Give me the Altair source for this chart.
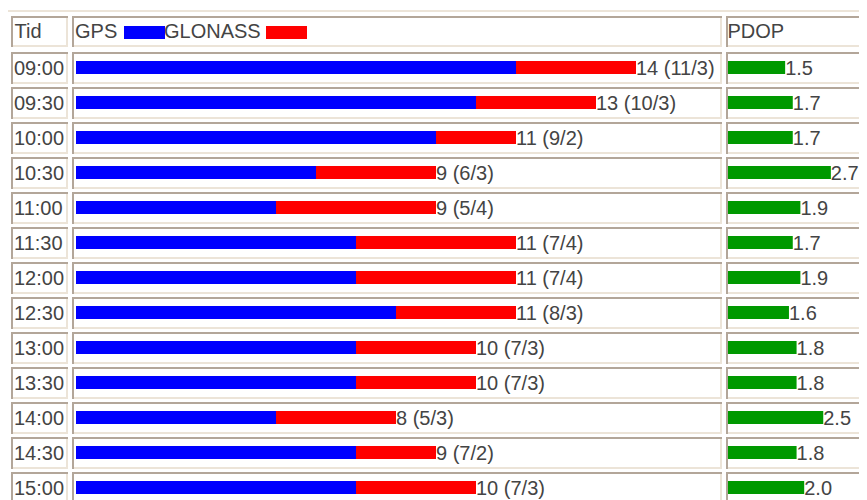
import altair as alt
import pandas as pd

# ---- data ----
times = ["09:00", "09:30", "10:00", "10:30", "11:00", "11:30", "12:00",
         "12:30", "13:00", "13:30", "14:00", "14:30", "15:00"]
gps = [11, 10, 9, 6, 5, 7, 7, 8, 7, 7, 5, 7, 7]
glonass = [3, 3, 2, 3, 4, 4, 4, 3, 3, 3, 3, 2, 3]
pdop = [1.5, 1.7, 1.7, 2.7, 1.9, 1.7, 1.9, 1.6, 1.8, 1.8, 2.5, 1.8, 2.0]
headers = ["Tid", "GPS", "GLONASS", "PDOP"]

totals = [g + r for g, r in zip(gps, glonass)]
labels = [f"{t} ({g}/{r})" for t, g, r in zip(totals, gps, glonass)]
df = pd.DataFrame({"time": times, "gps": gps, "glonass": glonass,
                   "total": totals, "label": labels, "pdop": pdop})
one = pd.DataFrame({"k": [0]})

# ---- styles ----
FONT = "Liberation Sans"
TXT = "#444444"
DARK = "#b3a699"
LIGHT = "#ece4d8"
BLUE, RED, GREEN = "#0000ff", "#ff0000", "#009900"

yscale = alt.Scale(domain=times, range=[44, 499], paddingInner=0, paddingOuter=0)
Y = alt.Y("time:N", scale=yscale, axis=None)
sat_scale = alt.Scale(domain=[0, 20], range=[68, 868], zero=True, nice=False)
pdop_scale = alt.Scale(domain=[0, 3], range=[720, 834.3], zero=True, nice=False)

layers = []

# outer table top line
layers.append(alt.Chart(one).mark_rect(color=LIGHT).encode(
    x=alt.value(0), x2=alt.value(859), y=alt.value(2), y2=alt.value(4)))

# row cells
def row_cell(x0, x1):
    base = alt.Chart(df)
    return [
        base.mark_bar(orient="horizontal", size=32, yOffset=-1.5, color=DARK).encode(
            x=alt.value(x0), x2=alt.value(x1), y=Y),
        base.mark_bar(orient="horizontal", size=30, yOffset=-0.5, color=LIGHT).encode(
            x=alt.value(x0 + 2), x2=alt.value(x1), y=Y),
        base.mark_bar(orient="horizontal", size=28, yOffset=-1.5, color="white").encode(
            x=alt.value(x0 + 2), x2=alt.value(x1 - 2), y=Y),
    ]

# header cells
def head_cell(x0, x1, y0=8, y1=39):
    base = alt.Chart(one)
    return [
        base.mark_rect(color=DARK).encode(x=alt.value(x0), x2=alt.value(x1),
                                          y=alt.value(y0), y2=alt.value(y1)),
        base.mark_rect(color=LIGHT).encode(x=alt.value(x0 + 2), x2=alt.value(x1),
                                           y=alt.value(y0 + 2), y2=alt.value(y1)),
        base.mark_rect(color="white").encode(x=alt.value(x0 + 2), x2=alt.value(x1 - 2),
                                             y=alt.value(y0 + 2), y2=alt.value(y1 - 2)),
    ]

for x0, x1 in [(3, 60), (64, 714), (718, 859)]:
    layers += head_cell(x0, x1)
    layers += row_cell(x0, x1)

# header texts and legend swatches
def htext(s, x):
    return alt.Chart(one).mark_text(text=s, align="left", baseline="alphabetic",
                                    font=FONT, fontSize=20, color=TXT).encode(
        x=alt.value(x), y=alt.value(30))

layers.append(htext(headers[0], 6.5))
layers.append(htext(headers[1], 67))
layers.append(htext(headers[2], 156))
layers.append(htext(headers[3], 719.5))
layers.append(alt.Chart(one).mark_rect(color=BLUE).encode(
    x=alt.value(116), x2=alt.value(157), y=alt.value(18), y2=alt.value(31)))
layers.append(alt.Chart(one).mark_rect(color=RED).encode(
    x=alt.value(258), x2=alt.value(299), y=alt.value(18), y2=alt.value(31)))

# time labels
layers.append(alt.Chart(df).mark_text(align="left", baseline="alphabetic", dy=5.5,
                                      font=FONT, fontSize=20, color=TXT).encode(
    x=alt.value(6), y=Y, text="time:N"))

# satellite bars
layers.append(alt.Chart(df).mark_bar(orient="horizontal", size=13, yOffset=-2, color=BLUE).encode(
    x=alt.X("gps:Q", scale=sat_scale, axis=None), y=Y))
layers.append(alt.Chart(df).mark_bar(orient="horizontal", size=13, yOffset=-2, color=RED).encode(
    x=alt.X("gps:Q", scale=sat_scale, axis=None), x2="total:Q", y=Y))
layers.append(alt.Chart(df).mark_text(align="left", baseline="alphabetic", dy=5.5,
                                      font=FONT, fontSize=20, color=TXT).encode(
    x=alt.X("total:Q", scale=sat_scale, axis=None), y=Y, text="label:N"))

# PDOP bars
layers.append(alt.Chart(df).mark_bar(orient="horizontal", size=13, yOffset=-2, color=GREEN).encode(
    x=alt.X("pdop:Q", scale=pdop_scale, axis=None), y=Y))
layers.append(alt.Chart(df).mark_text(align="left", baseline="alphabetic", dy=5.5,
                                      font=FONT, fontSize=20, color=TXT).encode(
    x=alt.X("pdop:Q", scale=pdop_scale, axis=None), y=Y,
    text=alt.Text("pdop:Q", format=".1f")))

chart = alt.layer(*layers).resolve_scale(x="independent").properties(
    width=851, height=492,
    autosize=alt.AutoSizeParams(type="none"),
    padding=0,
).configure_view(stroke=None)

chart.save("out.html", embed_options={"renderer": "svg", "actions": False})
